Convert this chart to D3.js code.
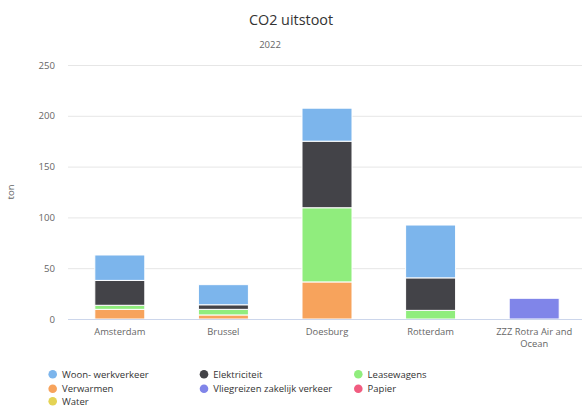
<!DOCTYPE html>
<html><head><meta charset="utf-8">
<script src="https://cdn.jsdelivr.net/npm/d3@7"></script>
<style>
body{margin:0;background:#fff;}
svg{display:block;font-family:"Open Sans",sans-serif;}
</style></head>
<body><svg id="c" width="582" height="407"></svg>
<script>
const categories = ["Amsterdam","Brussel","Doesburg","Rotterdam","ZZZ Rotra Air and Ocean"];
const seriesNames = ["Woon- werkverkeer","Elektriciteit","Leasewagens","Verwarmen","Vliegreizen zakelijk verkeer","Papier","Water"];
const seriesColors = ["#7cb5ec","#434348","#90ed7d","#f7a35c","#8085e9","#f15c80","#e4d354"];
const woonWerk     = [25, 19.8, 32.5, 52, 0];
const elektriciteit= [24.5, 4.5, 65.5, 32, 0];
const leasewagens  = [4, 5.5, 73, 8.5, 0];
const verwarmen    = [9.5, 4, 36.5, 0, 0];
const vliegreizen  = [0, 0, 0, 0, 20.4];
const papier       = [0, 0, 0, 0, 0];
const water        = [0, 0, 0, 0, 0];
const yTicks = [0,50,100,150,200,250];

const seriesValues = [woonWerk, elektriciteit, leasewagens, verwarmen, vliegreizen, papier, water];
const svg = d3.select("#c");
const x = d3.scaleBand().domain(categories).range([68, 586]).paddingInner(0).paddingOuter(0);
const y = d3.scaleLinear().domain([0,250]).range([319, 65]);

// title
svg.append("text").attr("x",291).attr("y",25).attr("text-anchor","middle")
  .attr("font-size","14.4px").attr("fill","#333").text("CO2 uitstoot");
svg.append("text").attr("x",270).attr("y",48).attr("text-anchor","middle")
  .attr("font-size","9.5px").attr("fill","#666").text("2022");

// grid
const yAxis = d3.axisLeft(y).tickValues(yTicks).tickSize(-(582-68)).tickPadding(13);
const ga = svg.append("g").attr("transform","translate(68,0)").call(yAxis);
ga.select(".domain").remove();
ga.selectAll(".tick line").attr("stroke","#e6e6e6");
ga.selectAll(".tick text").attr("font-size","9.6px").attr("fill","#666").attr("font-family","Open Sans, sans-serif");

svg.append("text").attr("transform","translate(14,192) rotate(-90)").attr("text-anchor","middle")
  .attr("font-size","9.6px").attr("fill","#666").text("ton");

// stacks (first series on top)
const data = categories.map((c,i)=>{const o={cat:c}; seriesNames.forEach((s,j)=>o[s]=seriesValues[j][i]); return o;});
const stackKeys = seriesNames.slice().reverse();
const stack = d3.stack().keys(stackKeys)(data);
const colorOf = d3.scaleOrdinal().domain(seriesNames).range(seriesColors);
const bw = 50;
svg.append("g").selectAll("g").data(stack).join("g").attr("fill",d=>colorOf(d.key))
  .selectAll("rect").data(d=>d.filter(p=>p[1]-p[0]>0)).join("rect")
  .attr("x",d=>x(d.data.cat)+x.bandwidth()/2-bw/2)
  .attr("width",bw)
  .attr("y",d=>y(d[1]))
  .attr("height",d=>y(d[0])-y(d[1]))
  .attr("stroke","#fff").attr("stroke-width",1);

// x axis
svg.append("line").attr("x1",68).attr("x2",582).attr("y1",319.5).attr("y2",319.5).attr("stroke","#ccd6eb");
const xl = svg.append("g");
categories.forEach(c=>{
  const cx = x(c)+x.bandwidth()/2;
  const lines = c.length>20 ? ["ZZZ Rotra Air and","Ocean"] : [c];
  const t = xl.append("text").attr("x",cx).attr("y",335).attr("text-anchor","middle")
    .attr("font-size","9.4px").attr("fill","#666");
  lines.forEach((l,i)=>t.append("tspan").attr("x",cx).attr("dy",i?11.8:0).text(l));
});

// legend
const colX = [52.7, 204, 358.3];
const rowY = [374.3, 388.7, 401.3];
const lg = svg.append("g");
seriesNames.forEach((s,i)=>{
  const cx = colX[i%3], cy = rowY[Math.floor(i/3)];
  lg.append("circle").attr("cx",cx).attr("cy",cy).attr("r",4.3).attr("fill",seriesColors[i]);
  lg.append("text").attr("x",cx+9.3).attr("y",cy+3.2).attr("font-size","9.5px").attr("fill","#333").text(s);
});
</script></body></html>
